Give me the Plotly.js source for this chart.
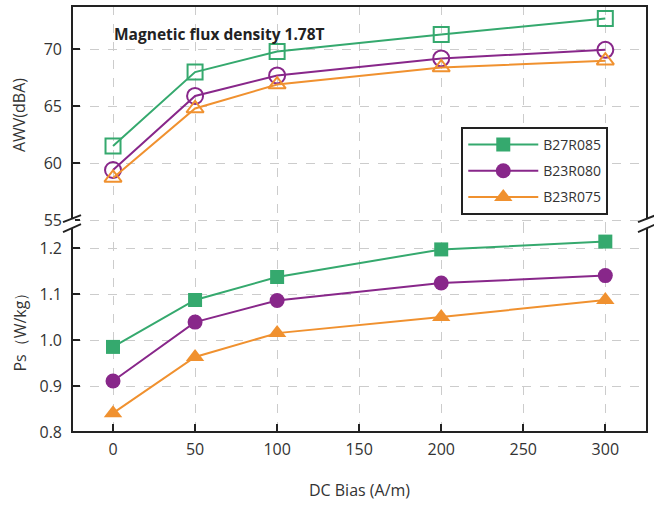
<!DOCTYPE html>
<html>
<head>
<meta charset="utf-8">
<script src="https://cdn.plot.ly/plotly-3.0.1.min.js"></script>
<style>html,body{margin:0;padding:0;background:#fff}#chart{width:654px;height:505px}</style>
</head>
<body>
<div id="chart"></div>
<script>
const dcBias = [0, 50, 100, 200, 300];
const seriesNames = ['B27R085', 'B23R080', 'B23R075'];
const awvB27R085 = [61.5, 68.0, 69.8, 71.3, 72.7];
const awvB23R080 = [59.4, 65.9, 67.7, 69.2, 69.95];
const awvB23R075 = [58.7, 64.8, 66.9, 68.4, 69.0];
const psB27R085 = [0.985, 1.087, 1.137, 1.197, 1.214];
const psB23R080 = [0.911, 1.039, 1.086, 1.124, 1.14];
const psB23R075 = [0.841, 0.963, 1.015, 1.05, 1.087];
const xTicks = [0, 50, 100, 150, 200, 250, 300];
const awvTicks = [55, 60, 65, 70];
const psTicks = [0.8, 0.9, 1.0, 1.1, 1.2];

const colors = ['#35a96e', '#88278a', '#f0912f'];
const openSymbols = ['square-open', 'circle-open', 'triangle-up-open'];
const filledSymbols = ['square', 'circle', 'triangle-up'];
const openSizes = [15, 16, 15];
const filledSizes = [14, 15, 16];
const awv = [awvB27R085, awvB23R080, awvB23R075];
const ps = [psB27R085, psB23R080, psB23R075];

const traces = [];
for (let i = 0; i < 3; i++) {
  traces.push({
    x: dcBias, y: awv[i], xaxis: 'x2', yaxis: 'y2', type: 'scatter', mode: 'lines+markers',
    name: seriesNames[i], showlegend: false,
    line: {color: colors[i], width: 2},
    marker: {symbol: openSymbols[i], size: openSizes[i], color: colors[i], line: {width: 2, color: colors[i]}},
    cliponaxis: false
  });
}
for (let i = 0; i < 3; i++) {
  traces.push({
    x: dcBias, y: ps[i], xaxis: 'x', yaxis: 'y', type: 'scatter', mode: 'lines+markers',
    name: seriesNames[i], legendgroup: 'g' + i,
    line: {color: colors[i], width: 2},
    marker: {symbol: filledSymbols[i], size: filledSizes[i], color: colors[i]},
    cliponaxis: false
  });
}

const split = 0.488;
const font = {family: 'Open Sans, sans-serif', color: '#333'};
const gridStyle = {showgrid: true, gridcolor: '#cccccc', gridwidth: 1, griddash: 'dash', zeroline: false, showline: false};

function breakShapes(xa) {
  const base = {type: 'line', xref: 'paper', yref: 'paper', xsizemode: 'pixel', ysizemode: 'pixel', xanchor: xa, yanchor: split, line: {color: '#222', width: 2}};
  return [
    {type: 'rect', xref: 'paper', yref: 'paper', xsizemode: 'pixel', ysizemode: 'pixel', xanchor: xa, yanchor: split,
     x0: -3, x1: 3, y0: -4, y1: 5, fillcolor: '#fff', line: {width: 0}},
    Object.assign({}, base, {x0: -9, x1: 9, y0: 2, y1: 9}),
    Object.assign({}, base, {x0: -9, x1: 9, y0: -8, y1: 0})
  ];
}

const layout = {
  width: 654, height: 505,
  margin: {l: 72, r: 7, t: 6, b: 73},
  paper_bgcolor: '#fff', plot_bgcolor: '#fff',
  font: Object.assign({size: 15}, font),
  showlegend: true,
  legend: {
    x: 0.677, y: 0.716, xanchor: 'left', yanchor: 'top',
    bgcolor: '#fff', bordercolor: '#222', borderwidth: 2,
    font: Object.assign({}, font, {size: 14}),
    itemwidth: 70, tracegroupgap: 5,
    entrywidth: 160, entrywidthmode: 'pixels'
  },
  xaxis: Object.assign({}, gridStyle, {
    anchor: 'y', domain: [0, 1], range: [-25, 325.4],
    tickvals: xTicks, ticks: 'inside', ticklen: 8, tickwidth: 2, tickcolor: '#222',
    tickfont: Object.assign({}, font, {size: 16}), ticklabelstandoff: 6,
    title: {text: 'DC Bias (A/m)', font: Object.assign({}, font, {size: 16}), standoff: 25}
  }),
  xaxis2: Object.assign({}, gridStyle, {
    anchor: 'y2', matches: 'x', range: [-25, 325.4], tickvals: xTicks,
    showticklabels: false, ticks: ''
  }),
  yaxis: Object.assign({}, gridStyle, {
    domain: [0, split], range: [0.8, 1.252], anchor: 'x',
    tickvals: psTicks, tickformat: '.1f', ticks: 'inside', ticklen: 8, tickwidth: 2, tickcolor: '#222',
    tickfont: Object.assign({}, font, {size: 16}), ticklabelstandoff: 9,
    title: {text: 'Ps（W/kg）', font: Object.assign({}, font, {size: 16}), standoff: 8}
  }),
  yaxis2: Object.assign({}, gridStyle, {
    domain: [split, 1], range: [54.65, 73.8], anchor: 'x2',
    tickvals: awvTicks, ticks: 'inside', ticklen: 8, tickwidth: 2, tickcolor: '#222',
    tickfont: Object.assign({}, font, {size: 16}), ticklabelstandoff: 9,
    title: {text: 'AWV(dBA)', font: Object.assign({}, font, {size: 16}), standoff: 14}
  }),
  annotations: [{
    text: '<b>Magnetic flux density 1.78T</b>', xref: 'paper', yref: 'paper',
    x: 0.07, y: 0.935, xanchor: 'left', yanchor: 'middle', showarrow: false,
    font: Object.assign({}, font, {size: 15.5, color: '#222'})
  }],
  shapes: [
    {type: 'rect', xref: 'paper', yref: 'paper', x0: 0, x1: 1, y0: 0, y1: 1, line: {color: '#222', width: 2}, layer: 'above'}
  ].concat(breakShapes(0), breakShapes(1))
};

Plotly.newPlot('chart', traces, layout, {displayModeBar: false, staticPlot: true});
</script>
</body>
</html>
